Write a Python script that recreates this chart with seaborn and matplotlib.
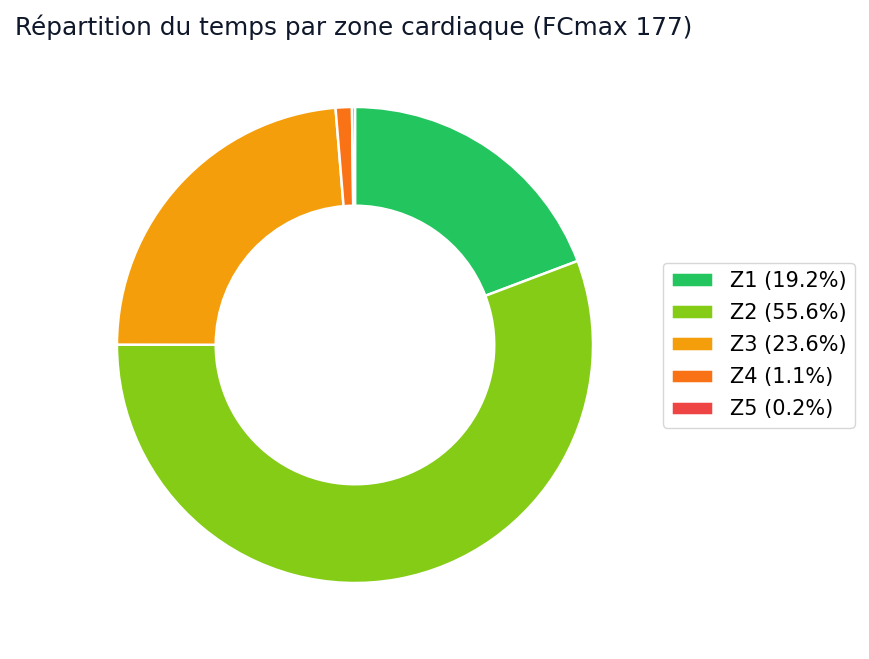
import matplotlib.pyplot as plt
import seaborn as sns

# donnees des zones cardiaques
zones = ["Z1", "Z2", "Z3", "Z4", "Z5"]
pourcentages = [19.2, 55.6, 23.6, 1.1, 0.2]
couleurs = ["#22c55e", "#84cc16", "#f59e0b", "#f97316", "#ef4444"]
titre = "Répartition du temps par zone cardiaque (FCmax 177)"

sns.set_theme(style="white")
plt.rcParams["font.family"] = ["DejaVu Sans"]

fig = plt.figure(figsize=(8.69, 6.59), dpi=100)
ax = fig.add_axes([0.066, 0.025, 0.685, 0.903])

palette = sns.color_palette(couleurs)
wedges, _ = ax.pie(
    pourcentages,
    colors=palette,
    startangle=90,
    counterclock=False,
    wedgeprops={"width": 0.415, "edgecolor": "white", "linewidth": 1.8},
)
ax.set_aspect("equal")

labels = [f"{z} ({p:.1f}%)" for z, p in zip(zones, pourcentages)]
leg = fig.legend(
    wedges,
    labels,
    loc="center left",
    bbox_to_anchor=(663 / 869, 1 - 345 / 659),
    borderaxespad=0,
    fontsize=15,
    labelspacing=0.58,
    frameon=True,
)
for t in leg.get_texts():
    t.set_color("black")

fig.text(15 / 869, 1 - 27 / 659, titre, fontsize=17.8, color="#0f172a", va="center", ha="left")

plt.savefig("out.png", dpi=100)
plt.close()
